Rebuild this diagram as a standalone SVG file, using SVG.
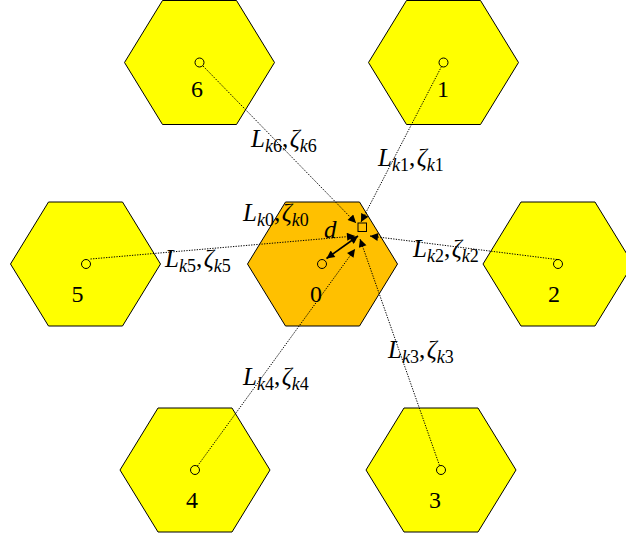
<svg xmlns="http://www.w3.org/2000/svg" width="626" height="542" viewBox="0 0 626 542">
<style>
.yel{fill:#FFFF00;stroke:#000;stroke-width:1}
.org{fill:#FFC000;stroke:#000;stroke-width:1}
.dot{fill:none;stroke:#000;stroke-width:1}
.num{font-family:"Liberation Serif",serif;font-size:24px;text-anchor:middle;fill:#000}
.lab{font-family:"Liberation Serif",serif;font-size:25px;font-style:italic;fill:#000}
.sub{font-size:18px}
.up{font-style:normal}
.ln{fill:none;stroke:#000;stroke-width:1;stroke-dasharray:1.3 1.3}
.dl{fill:none;stroke:#000;stroke-width:1.6}
</style>
<defs>
<polygon id="hx" points="-75,0 -37,-62 37,-62 75,0 37,62 -37,62"/>
<marker id="ah" viewBox="0 0 10 10" refX="10" refY="5" markerWidth="10" markerHeight="8" markerUnits="userSpaceOnUse" orient="auto-start-reverse"><path d="M0,0 L10,5 L0,10 z" fill="#000"/></marker>
</defs>

<g id="cell6" transform="translate(199.5,62.5)"><use href="#hx" class="yel"/><circle r="4.5" class="dot"/><text class="num" x="-2.5" y="34.5">6</text></g>
<g id="cell1" transform="translate(443.5,62.5)"><use href="#hx" class="yel"/><circle r="4.5" class="dot"/><text class="num" x="-0.5" y="34.5">1</text></g>
<g id="cell5" transform="translate(85.5,264)"><use href="#hx" class="yel"/><circle cx="0.5" r="4.5" class="dot"/><text class="num" x="-8" y="38">5</text></g>
<g id="cell0" transform="translate(322.5,264)"><use href="#hx" class="org"/><circle cx="-0.5" r="4.5" class="dot"/><text class="num" x="-6.5" y="38">0</text></g>
<g id="cell2" transform="translate(558,264)"><use href="#hx" class="yel"/><circle r="4.5" class="dot"/><text class="num" x="-4" y="38">2</text></g>
<g id="cell4" transform="translate(195,470)"><use href="#hx" class="yel"/><circle r="4.5" class="dot"/><text class="num" x="-3" y="38">4</text></g>
<g id="cell3" transform="translate(441,470)"><use href="#hx" class="yel"/><circle r="4.5" class="dot"/><text class="num" x="-6" y="38">3</text></g>

<g id="pointk"><rect x="358" y="223" width="8.5" height="8.5" fill="none" stroke="#000" stroke-width="1"/></g>

<g id="connectors">
<line class="ln" x1="203" y1="66" x2="356" y2="223" marker-end="url(#ah)"/>
<line class="ln" x1="441.5" y1="66.5" x2="361" y2="222" marker-end="url(#ah)"/>
<line class="ln" x1="557" y1="259.5" x2="370" y2="236" marker-end="url(#ah)"/>
<line class="ln" x1="90.5" y1="259" x2="355" y2="236" marker-end="url(#ah)"/>
<line class="ln" x1="439.5" y1="465.5" x2="360" y2="239" marker-end="url(#ah)"/>
<line class="ln" x1="197.5" y1="466" x2="355" y2="249" marker-end="url(#ah)"/>
<line class="dl" x1="326.5" y1="258.5" x2="358" y2="236" marker-start="url(#ah)" marker-end="url(#ah)"/>
</g>

<g id="labels">
<text class="lab" x="251" y="147">L<tspan class="sub" dy="5">k<tspan class="up">6</tspan></tspan><tspan class="up" dy="-5">,</tspan><tspan dx="1.5">ζ</tspan><tspan class="sub" dy="5">k<tspan class="up">6</tspan></tspan></text>
<text class="lab" x="378" y="166">L<tspan class="sub" dy="5">k<tspan class="up">1</tspan></tspan><tspan class="up" dy="-5">,</tspan><tspan dx="1.5">ζ</tspan><tspan class="sub" dy="5">k<tspan class="up">1</tspan></tspan></text>
<text class="lab" x="243" y="221">L<tspan class="sub" dy="5">k<tspan class="up">0</tspan></tspan><tspan class="up" dy="-5">,</tspan><tspan dx="1.5">ζ</tspan><tspan class="sub" dy="5">k<tspan class="up">0</tspan></tspan></text>
<text class="lab" x="165" y="267">L<tspan class="sub" dy="5">k<tspan class="up">5</tspan></tspan><tspan class="up" dy="-5">,</tspan><tspan dx="1.5">ζ</tspan><tspan class="sub" dy="5">k<tspan class="up">5</tspan></tspan></text>
<text class="lab" x="413" y="257">L<tspan class="sub" dy="5">k<tspan class="up">2</tspan></tspan><tspan class="up" dy="-5">,</tspan><tspan dx="1.5">ζ</tspan><tspan class="sub" dy="5">k<tspan class="up">2</tspan></tspan></text>
<text class="lab" x="388" y="358">L<tspan class="sub" dy="5">k<tspan class="up">3</tspan></tspan><tspan class="up" dy="-5">,</tspan><tspan dx="1.5">ζ</tspan><tspan class="sub" dy="5">k<tspan class="up">3</tspan></tspan></text>
<text class="lab" x="243" y="385">L<tspan class="sub" dy="5">k<tspan class="up">4</tspan></tspan><tspan class="up" dy="-5">,</tspan><tspan dx="1.5">ζ</tspan><tspan class="sub" dy="5">k<tspan class="up">4</tspan></tspan></text>
<text class="lab" x="324" y="238" font-size="27">d</text>
</g>
</svg>
